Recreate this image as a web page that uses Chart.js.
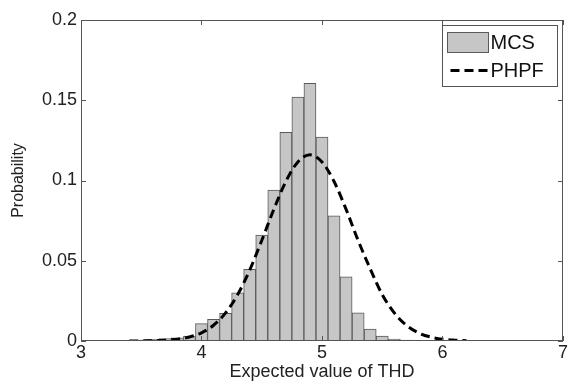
<!DOCTYPE html>
<html>
<head>
<meta charset="utf-8">
<script src="https://cdn.jsdelivr.net/npm/chart.js@4"></script>
<style>
  html, body { margin: 0; padding: 0; background: #fff; }
  #wrap { width: 569px; height: 389px; }
</style>
</head>
<body>
<div id="wrap"><canvas id="chart" width="569" height="389"></canvas></div>
<script>
// histogram of the MCS results (bin centres, width 0.1)
const binCenters = [3.5, 3.6, 3.7, 3.8, 3.9, 4.0, 4.1, 4.2, 4.3, 4.4, 4.5, 4.6,
                    4.7, 4.8, 4.9, 5.0, 5.1, 5.2, 5.3, 5.4, 5.5, 5.6, 5.7, 5.8];
const mcsProb = [0.0005, 0.001, 0.0015, 0.002, 0.003, 0.0108, 0.0135, 0.0172, 0.030, 0.0447, 0.066, 0.094,
                 0.130, 0.152, 0.1605, 0.127, 0.078, 0.040, 0.0176, 0.0075, 0.003, 0.0012, 0.0005, 0.0003];

// PHPF curve
const curveX = [3.4, 3.5, 3.6, 3.7, 3.8, 3.9, 4.0, 4.1, 4.2, 4.3, 4.4, 4.5, 4.6, 4.7, 4.8,
                4.9, 5.0, 5.1, 5.2, 5.3, 5.4, 5.5, 5.6, 5.7, 5.8, 5.9, 6.0, 6.1, 6.2];
const phpfProb = [0.0000, 0.0001, 0.0002, 0.0005, 0.0011, 0.0025, 0.0051, 0.0098, 0.0175, 0.0289, 0.0442, 0.0626, 0.082, 0.0994, 0.1116,
                  0.116, 0.1116, 0.0994, 0.082, 0.0626, 0.0450, 0.0289, 0.0175, 0.0098, 0.0051, 0.0025, 0.0011, 0.0005, 0.0002];

const xTicks = [3, 4, 5, 6, 7];
const yTicks = [0, 0.05, 0.1, 0.15, 0.2];

const FONT = 'Liberation Sans, Arial, Helvetica, sans-serif';
const FRAME = '#555';

// MATLAB style box, inward ticks and boxed legend
const matlabFrame = {
    id: 'matlabFrame',
    afterDatasetsDraw(chart) {
        const { ctx, chartArea: a, scales } = chart;
        ctx.save();
        ctx.strokeStyle = FRAME;
        ctx.lineWidth = 1;
        ctx.strokeRect(a.left + 0.5, a.top + 0.5, a.right - a.left - 1, a.bottom - a.top - 1);

        ctx.beginPath();
        scales.x.ticks.forEach(t => {
            const px = Math.round(scales.x.getPixelForValue(t.value)) + 0.5;
            ctx.moveTo(px, a.bottom); ctx.lineTo(px, a.bottom - 5);
            ctx.moveTo(px, a.top); ctx.lineTo(px, a.top + 5);
        });
        scales.y.ticks.forEach(t => {
            const py = Math.round(scales.y.getPixelForValue(t.value)) + 0.5;
            ctx.moveTo(a.left, py); ctx.lineTo(a.left + 5, py);
            ctx.moveTo(a.right, py); ctx.lineTo(a.right - 5, py);
        });
        ctx.stroke();

        // legend
        const ds = chart.data.datasets;
        const lw = 115, lh = 61;
        const lx = a.right - 6 - lw + 0.5, ly = a.top + 5 + 0.5;
        ctx.fillStyle = '#fff';
        ctx.fillRect(lx, ly, lw, lh);
        ctx.strokeRect(lx, ly, lw, lh);

        ctx.font = '20px ' + FONT;
        ctx.textBaseline = 'middle';
        ctx.textAlign = 'left';

        // MCS swatch
        ctx.fillStyle = ds[0].backgroundColor;
        ctx.strokeStyle = ds[0].borderColor;
        ctx.fillRect(lx + 5, ly + 7, 41, 20);
        ctx.strokeRect(lx + 5, ly + 7, 41, 20);
        ctx.fillStyle = '#111';
        ctx.fillText(ds[0].label, lx + 48, ly + 18);

        // PHPF line
        ctx.strokeStyle = ds[1].borderColor;
        ctx.lineWidth = ds[1].borderWidth;
        ctx.setLineDash(ds[1].borderDash);
        ctx.beginPath();
        ctx.moveTo(lx + 8, ly + 45);
        ctx.lineTo(lx + 47, ly + 45);
        ctx.stroke();
        ctx.setLineDash([]);
        ctx.fillText(ds[1].label, lx + 48, ly + 46);
        ctx.restore();
    }
};

new Chart(document.getElementById('chart'), {
    type: 'bar',
    data: {
        datasets: [{
            type: 'bar',
            label: 'MCS',
            data: binCenters.map((x, i) => ({ x: x, y: mcsProb[i] })),
            backgroundColor: '#c6c6c6',
            borderColor: '#5a5a5a',
            borderWidth: 1,
            borderSkipped: false,
            barPercentage: 1,
            categoryPercentage: 1,
            order: 1
        }, {
            type: 'line',
            label: 'PHPF',
            data: curveX.map((x, i) => ({ x: x, y: phpfProb[i] })),
            borderColor: '#000',
            borderWidth: 3,
            borderDash: [9, 5],
            pointRadius: 0,
            fill: false,
            cubicInterpolationMode: 'monotone',
            order: 0
        }]
    },
    options: {
        responsive: false,
        animation: false,
        layout: { padding: { left: 0, right: 6, top: 20, bottom: 0 } },
        plugins: { legend: { display: false }, tooltip: { enabled: false } },
        scales: {
            x: {
                type: 'linear',
                min: 3,
                max: 7,
                offset: false,
                afterBuildTicks: s => { s.ticks = xTicks.map(v => ({ value: v })); },
                afterFit: s => { s.height = 48; },
                grid: { display: false, drawTicks: false, offset: false },
                border: { display: false },
                ticks: { font: { family: FONT, size: 18 }, color: '#222', padding: 1, maxRotation: 0 },
                title: {
                    display: true,
                    text: 'Expected value of THD',
                    font: { family: FONT, size: 18 },
                    color: '#222',
                    padding: { top: 0, bottom: 6 }
                }
            },
            y: {
                type: 'linear',
                min: 0,
                max: 0.2,
                afterBuildTicks: s => { s.ticks = yTicks.map(v => ({ value: v })); },
                afterFit: s => { s.width = 81; },
                grid: { display: false, drawTicks: false },
                border: { display: false },
                ticks: {
                    font: { family: FONT, size: 18 },
                    color: '#222',
                    padding: 4,
                    callback: v => String(+v.toFixed(2))
                },
                title: {
                    display: true,
                    text: 'Probability',
                    font: { family: FONT, size: 16 },
                    color: '#222',
                    padding: { top: 9, bottom: 0 }
                }
            }
        }
    },
    plugins: [matlabFrame]
});
</script>
</body>
</html>
